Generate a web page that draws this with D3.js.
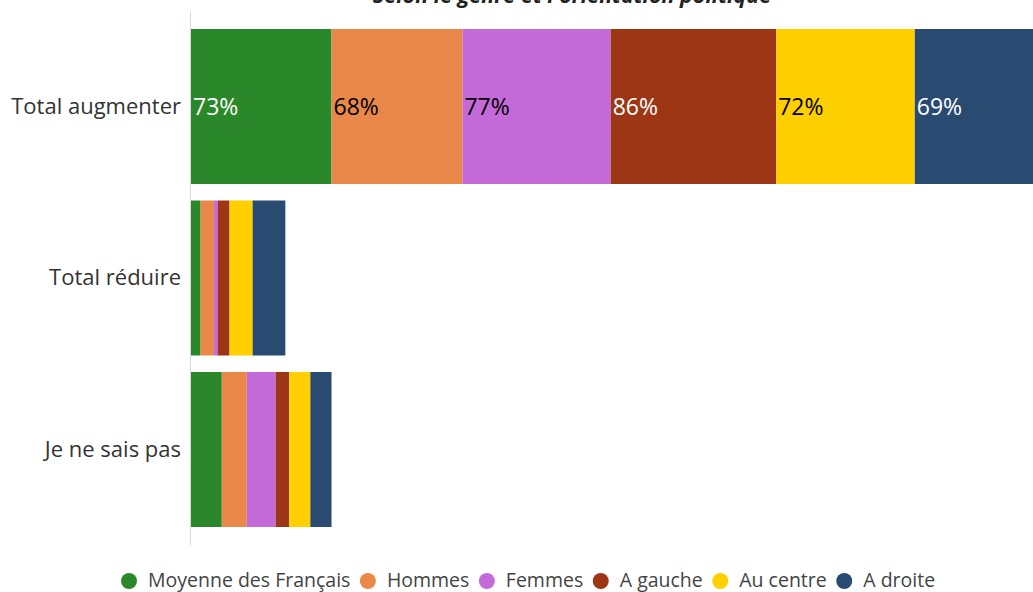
<!DOCTYPE html>
<html>
<head>
<meta charset="utf-8">
<script src="https://cdn.jsdelivr.net/npm/d3@7"></script>
<style>
  body { margin: 0; background: #fff; overflow: hidden; }
  #chart { width: 1033px; height: 592px; }
  text { font-family: "Open Sans", sans-serif; }
</style>
</head>
<body>
<div id="chart"></div>
<script>
// data
var categories = ["Total augmenter", "Total réduire", "Je ne sais pas"];
var series = ["Moyenne des Français", "Hommes", "Femmes", "A gauche", "Au centre", "A droite"];
var moyenne = [73, 5, 16];
var hommes = [68, 7, 13];
var femmes = [77, 2, 15];
var gauche = [86, 6, 7];
var centre = [72, 12, 11];
var droite = [69, 17, 11];
var colors = ["#2a882b", "#ea8849", "#c36ad8", "#9c3615", "#ffcf00", "#2a4b71"];
var labelColors = ["#fff", "#000", "#000", "#fff", "#000", "#fff"];
var title = "Selon le genre et l'orientation politique";

var values = [moyenne, hommes, femmes, gauche, centre, droite];

var data = categories.map(function(c, i) {
    var row = { cat: c };
    series.forEach(function(s, j) { row[s] = values[j][i]; });
    return row;
});

var width = 1033,
    height = 592;

var svg = d3.select("#chart")
    .append("svg")
    .attr("width", width)
    .attr("height", height);

var stack = d3.stack().keys(series);
var stacked = stack(data);

var total = d3.max(data, d => d3.sum(series, s => d[s]));

// the plot runs a bit past the right edge, like the original
var x = d3.scaleLinear()
    .domain([0, total])
    .range([191, 191 + total * 1.925]);

var y = d3.scaleBand()
    .domain(categories)
    .range([29, 527])
    .paddingInner(0.0962)
    .paddingOuter(0);

var color = d3.scaleOrdinal().domain(series).range(colors);

/* TITLE */
svg.append("text")
    .attr("x", 572)
    .attr("y", 3)
    .attr("text-anchor", "middle")
    .style("font-size", "21.5px")
    .style("font-weight", "bold")
    .style("font-style", "italic")
    .style("fill", "#222")
    .text(title);

/* BARS */
var groups = svg.append("g")
    .selectAll("g")
    .data(stacked)
    .enter()
    .append("g")
    .attr("fill", d => color(d.key));

groups.selectAll("rect")
    .data(d => d)
    .enter()
    .append("rect")
    .attr("x", d => x(d[0]))
    .attr("y", d => y(d.data.cat))
    .attr("width", d => x(d[1]) - x(d[0]))
    .attr("height", y.bandwidth());

/* LABELS on first row only */
stacked.forEach(function(layer, j) {
    var d = layer[0];
    svg.append("text")
        .attr("x", x(d[0]) + 2)
        .attr("y", y(d.data.cat) + y.bandwidth() / 2)
        .attr("dy", "0.35em")
        .style("font-size", "23px")
        .style("fill", labelColors[j])
        .text(d.data[layer.key] + "%");
});

/* Y AXIS */
var yAxis = d3.axisLeft(y).tickSize(0).tickPadding(10);
var ax = svg.append("g")
    .attr("transform", "translate(191,0)")
    .call(yAxis);
ax.select(".domain").remove();
ax.selectAll("text")
    .style("font-family", "'Open Sans', sans-serif")
    .style("font-size", "22px")
    .style("fill", "#333");

svg.append("line")
    .attr("x1", 190.5).attr("x2", 190.5)
    .attr("y1", 12).attr("y2", 545)
    .attr("stroke", "#d9d9d9")
    .attr("stroke-width", 1);

/* LEGEND */
var legend = svg.append("g").attr("class", "legend");
var lx = 121;
series.forEach(function(s, i) {
    var g = legend.append("g").attr("transform", "translate(" + lx + ",580)");
    g.append("circle")
        .attr("cx", 8)
        .attr("cy", 1)
        .attr("r", 8)
        .attr("fill", color(s));
    var t = g.append("text")
        .attr("x", 27)
        .attr("y", 0)
        .attr("dy", "0.35em")
        .style("font-size", "19.5px")
        .style("fill", "#444")
        .text(s);
    lx += 27 + t.node().getComputedTextLength() + 9.5;
});
</script>
</body>
</html>
